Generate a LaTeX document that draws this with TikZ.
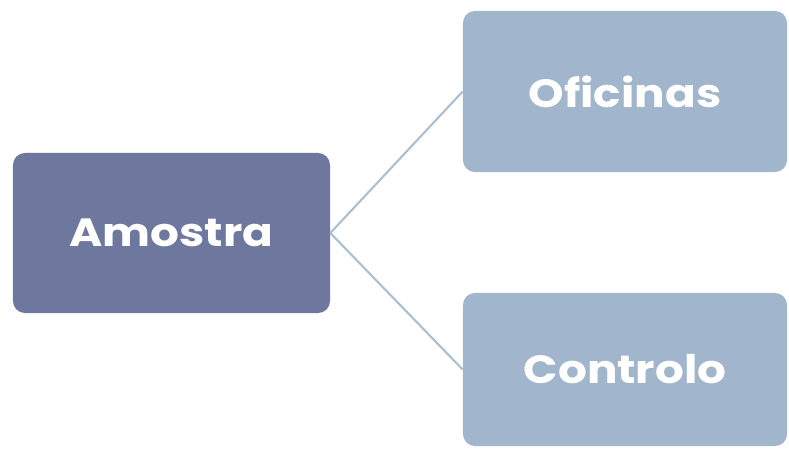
\documentclass[tikz,border=0pt]{standalone}
\usepackage{fontspec}
\setmainfont{Poppins}[FakeStretch=1.15]
\definecolor{darkbox}{HTML}{6E789F}
\definecolor{lightbox}{HTML}{A1B6CC}
\definecolor{linkline}{HTML}{A9BFD4}
\begin{document}
\begin{tikzpicture}[x=0.025cm,y=-0.025cm]
\tikzstyle{every node}+=[inner sep=0pt]
\tikzstyle{box}=[rounded corners=0.3cm, text=white, font=\fontsize{28}{32}\selectfont\bfseries]
\useasboundingbox (0,0) rectangle (789,449);
\node [box, fill=darkbox, minimum width=7.925cm, minimum height=4cm] (amostra) at (171.5,233) {Amostra};
\node [box, fill=lightbox, minimum width=8.1cm, minimum height=4.025cm] (oficinas) at (625,91.5) {Oficinas};
\node [box, fill=lightbox, minimum width=8.1cm, minimum height=3.825cm] (controlo) at (625,369.5) {Controlo};
\draw [linkline, line width=1.5pt] (amostra.east) -- (oficinas.west);
\draw [linkline, line width=1.5pt] (amostra.east) -- (controlo.west);
\end{tikzpicture}
\end{document}
